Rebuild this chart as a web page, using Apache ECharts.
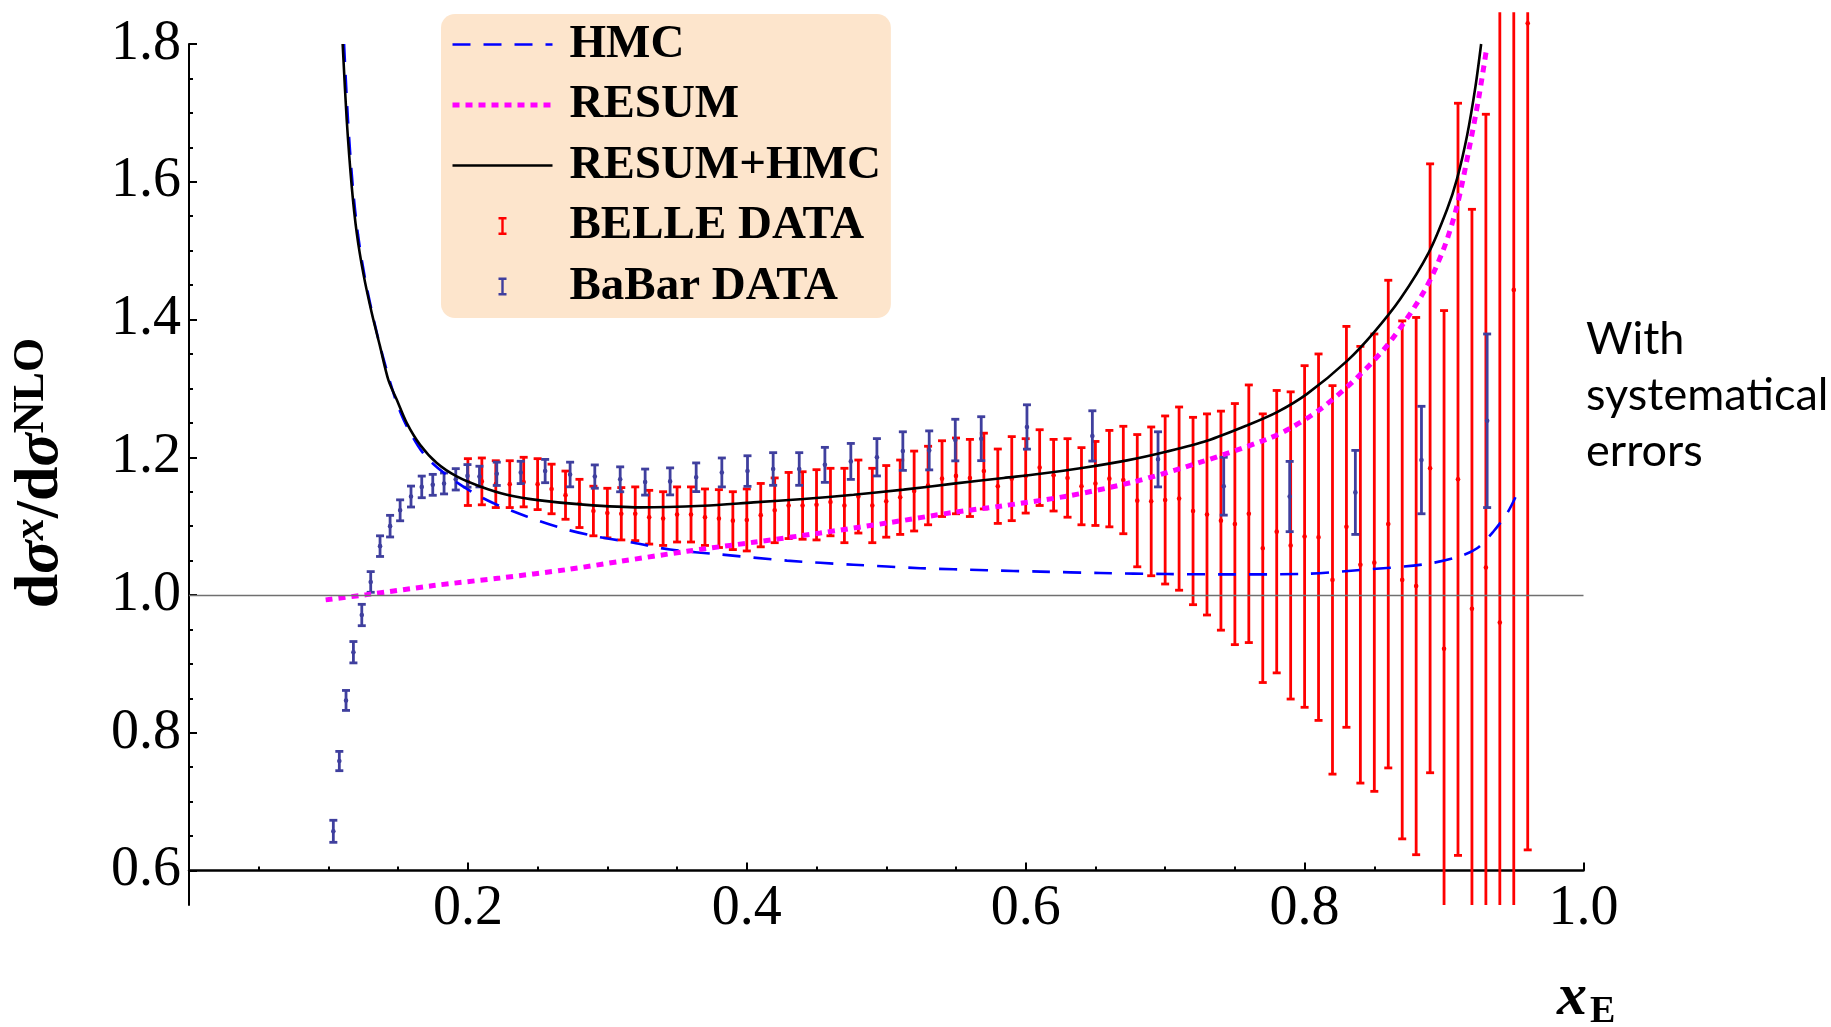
<!DOCTYPE html>
<html>
<head>
<meta charset="utf-8">
<title>xE ratio</title>
<script src="https://cdn.jsdelivr.net/npm/echarts@6/dist/echarts.min.js"></script>
<style>
  html, body { margin: 0; padding: 0; background: #fff; }
  #chart { width: 1831px; height: 1027px; }
</style>
</head>
<body>
<div id="chart"></div>
<script>
// tick labels
var xTicks = [0.2, 0.4, 0.6, 0.8, 1.0];
var xMinorTicks = [0.05, 0.1, 0.15, 0.25, 0.3, 0.35, 0.45, 0.5, 0.55, 0.65, 0.7, 0.75, 0.85, 0.9, 0.95];
var yTicks = [0.6, 0.8, 1.0, 1.2, 1.4, 1.6, 1.8];
var yMinorTicks = [0.65, 0.7, 0.75, 0.85, 0.9, 0.95, 1.05, 1.1, 1.15, 1.25, 1.3, 1.35,
  1.45, 1.5, 1.55, 1.65, 1.7, 1.75];

// HMC (blue dashed)
var hmcX = [0.1112, 0.1140, 0.1175, 0.1212, 0.1260, 0.1320, 0.1380, 0.1450, 0.1495, 0.1562,
  0.1697, 0.1896, 0.2135, 0.2422, 0.2709, 0.2948, 0.3187, 0.3450, 0.3809, 0.4288, 0.4766,
  0.5244, 0.5722, 0.6105, 0.6535, 0.7014, 0.7491, 0.7970, 0.8377, 0.8855, 0.9094, 0.9237,
  0.9357, 0.9453, 0.9512];
var hmcY = [1.800, 1.690, 1.592, 1.523, 1.462, 1.404, 1.354, 1.304, 1.276, 1.245,
  1.2015, 1.167, 1.138, 1.114, 1.095, 1.084, 1.076, 1.066, 1.059, 1.050, 1.044,
  1.039, 1.036, 1.034, 1.032, 1.0305, 1.030, 1.0305, 1.036, 1.0445, 1.055, 1.068,
  1.093, 1.119, 1.142];

// RESUM (magenta dotted)
var resumX = [0.098, 0.1275, 0.1753, 0.2231, 0.2709, 0.3092, 0.357, 0.4048, 0.4527, 0.5005,
  0.5483, 0.5818, 0.6296, 0.6774, 0.7253, 0.7731, 0.7898, 0.8125, 0.8377, 0.8615, 0.8855,
  0.8998, 0.9094, 0.9177, 0.9249, 0.9304];
var resumY = [0.993, 1.0006, 1.0137, 1.0248, 1.0369, 1.0489, 1.0635, 1.0766, 1.0901, 1.1046,
  1.120, 1.129, 1.1436, 1.1643, 1.1928, 1.2263, 1.2422, 1.2717, 1.3158, 1.3682, 1.4402,
  1.503, 1.5656, 1.645, 1.722, 1.792];

// RESUM+HMC (black solid)
var totalX = [0.1102, 0.1131, 0.1167, 0.1203, 0.1250, 0.1311, 0.1370, 0.1430, 0.1490, 0.1562,
  0.1657, 0.1777, 0.1920, 0.2088, 0.2279, 0.2518, 0.2829, 0.3235, 0.3689, 0.4048, 0.4407,
  0.4766, 0.5124, 0.5483, 0.5842, 0.6105, 0.6415, 0.6727, 0.7014, 0.7300, 0.7588, 0.7803,
  0.8018, 0.8305, 0.8496, 0.8687, 0.8890, 0.9022, 0.9094, 0.9166, 0.9225, 0.9266];
var totalY = [1.800, 1.690, 1.593, 1.5255, 1.467, 1.409, 1.361, 1.312, 1.2836, 1.2497,
  1.2183, 1.1917, 1.1722, 1.1577, 1.1457, 1.1374, 1.1312, 1.1273, 1.1297, 1.1345, 1.1394,
  1.1457, 1.153, 1.1617, 1.1700, 1.1760, 1.1849, 1.1955, 1.2084, 1.2239, 1.2463, 1.2655,
  1.292, 1.340, 1.381, 1.430, 1.497, 1.560, 1.605, 1.668, 1.738, 1.800];

// BELLE data: x, value, symmetric error
var belleX = [0.20, 0.21, 0.22, 0.23, 0.24, 0.25, 0.26, 0.27, 0.28, 0.29,
  0.30, 0.31, 0.32, 0.33, 0.34, 0.35, 0.36, 0.37, 0.38, 0.39,
  0.40, 0.41, 0.42, 0.43, 0.44, 0.45, 0.46, 0.47, 0.48, 0.49,
  0.50, 0.51, 0.52, 0.53, 0.54, 0.55, 0.56, 0.57, 0.58, 0.59,
  0.60, 0.61, 0.62, 0.63, 0.64, 0.65, 0.66, 0.67, 0.68, 0.69,
  0.70, 0.71, 0.72, 0.73, 0.74, 0.75, 0.76, 0.77, 0.78, 0.79,
  0.80, 0.81, 0.82, 0.83, 0.84, 0.85, 0.86, 0.87, 0.88, 0.89,
  0.90, 0.91, 0.92, 0.93, 0.94, 0.95, 0.96];
var belleY = [1.164, 1.165, 1.161, 1.161, 1.164, 1.161, 1.154, 1.145, 1.133, 1.122,
  1.119, 1.118, 1.118, 1.113, 1.111, 1.117, 1.117, 1.113, 1.111, 1.108,
  1.109, 1.116, 1.123, 1.130, 1.130, 1.131, 1.135, 1.130, 1.143, 1.130,
  1.136, 1.142, 1.151, 1.159, 1.169, 1.173, 1.170, 1.180, 1.158, 1.169,
  1.173, 1.185, 1.174, 1.170, 1.158, 1.162, 1.169, 1.167, 1.137, 1.136,
  1.138, 1.140, 1.122, 1.117, 1.108, 1.103, 1.118, 1.068, 1.092, 1.072,
  1.085, 1.084, 1.022, 1.099, 1.044, 1.047, 1.103, 1.022, 1.013, 1.184,
  0.922, 1.168, 0.980, 1.040, 0.960, 1.443, 1.830];
var belleErr = [0.034, 0.034, 0.034, 0.034, 0.036, 0.037, 0.036, 0.035, 0.035, 0.036,
  0.036, 0.038, 0.039, 0.039, 0.039, 0.040, 0.040, 0.041, 0.042, 0.042,
  0.045, 0.046, 0.047, 0.048, 0.049, 0.051, 0.049, 0.054, 0.053, 0.054,
  0.052, 0.054, 0.058, 0.057, 0.055, 0.055, 0.056, 0.055, 0.054, 0.061,
  0.054, 0.055, 0.052, 0.057, 0.056, 0.061, 0.070, 0.078, 0.096, 0.108,
  0.122, 0.133, 0.136, 0.146, 0.159, 0.175, 0.187, 0.195, 0.205, 0.223,
  0.248, 0.266, 0.282, 0.291, 0.317, 0.332, 0.354, 0.376, 0.390, 0.442,
  0.491, 0.546, 0.580, 0.658, 1.000, 1.000, 1.200];

// BaBar data
var babarX = [0.1035, 0.1078, 0.1126, 0.1179, 0.1239, 0.1303, 0.1370, 0.1442, 0.1514, 0.1592,
  0.1669, 0.1748, 0.1829, 0.1913, 0.1997, 0.2083, 0.2207, 0.2379, 0.2554, 0.2733,
  0.2910, 0.3092, 0.3271, 0.3450, 0.3637, 0.3821, 0.4005, 0.4189, 0.4376, 0.4560,
  0.4746, 0.4933, 0.5119, 0.5308, 0.5495, 0.5681, 0.6009, 0.6478, 0.6949, 0.7420,
  0.7893, 0.8364, 0.8838, 0.9309];
var babarY = [0.657, 0.759, 0.847, 0.917, 0.971, 1.019, 1.071, 1.100, 1.123, 1.143,
  1.157, 1.160, 1.162, 1.168, 1.173, 1.172, 1.176, 1.178, 1.180, 1.175,
  1.172, 1.168, 1.164, 1.165, 1.171, 1.178, 1.180, 1.183, 1.183, 1.189,
  1.194, 1.200, 1.209, 1.210, 1.225, 1.227, 1.244, 1.231, 1.197, 1.158,
  1.143, 1.149, 1.196, 1.253];
var babarErr = [0.016, 0.014, 0.0145, 0.0155, 0.0155, 0.015, 0.015, 0.0157, 0.0152, 0.0152,
  0.0157, 0.0152, 0.0152, 0.0155, 0.0164, 0.015, 0.0169, 0.0162, 0.0169, 0.0179,
  0.0169, 0.0181, 0.0189, 0.0196, 0.0208, 0.021, 0.0222, 0.0237, 0.0237, 0.0254,
  0.0261, 0.0271, 0.028, 0.0283, 0.0302, 0.0319, 0.0322, 0.0365, 0.040, 0.042,
  0.051, 0.061, 0.078, 0.126];

var Y_MIN = 0.55, Y_MAX = 1.8, Y_CLIP_TOP = 1.846;
var SERIF = 'Liberation Serif';
var IBEAM = 'path://M0,0 L8,0 L8,2.5 L5.2,2.5 L5.2,15.5 L8,15.5 L8,18 L0,18 L0,15.5 L2.8,15.5 L2.8,2.5 L0,2.5 Z';
var NO_SYMBOL = { color: 'rgba(0,0,0,0)', borderColor: 'rgba(0,0,0,0)', borderWidth: 0 };

function pairs(xs, ys) {
  return xs.map(function (x, i) { return [x, ys[i]]; });
}
function triples(xs, ys, es) {
  return xs.map(function (x, i) { return [x, ys[i], es[i]]; });
}

// error bar drawing, bars are cut at the plot range (no cap where cut)
function errorBar(color, lw, capW) {
  return function (params, api) {
    var x = api.value(0), y = api.value(1), e = api.value(2);
    var hi = y + e, lo = y - e;
    var capHi = hi <= Y_CLIP_TOP, capLo = lo >= Y_MIN;
    var top = api.coord([x, Math.min(hi, Y_CLIP_TOP)]);
    var bot = api.coord([x, Math.max(lo, Y_MIN)]);
    var mid = api.coord([x, y]);
    var st = { stroke: color, lineWidth: lw };
    var kids = [{ type: 'line', shape: { x1: top[0], y1: top[1], x2: bot[0], y2: bot[1] }, style: st }];
    if (capHi) kids.push({ type: 'line', shape: { x1: top[0] - capW / 2, y1: top[1], x2: top[0] + capW / 2, y2: top[1] }, style: st });
    if (capLo) kids.push({ type: 'line', shape: { x1: bot[0] - capW / 2, y1: bot[1], x2: bot[0] + capW / 2, y2: bot[1] }, style: st });
    kids.push({ type: 'circle', shape: { cx: mid[0], cy: mid[1], r: 2.3 }, style: { fill: color } });
    return { type: 'group', children: kids };
  };
}

var chart = echarts.init(document.getElementById('chart'), null, { renderer: 'canvas' });

var option = {
  animation: false,
  backgroundColor: '#ffffff',
  grid: { left: 189, top: 44, width: 1394.5, height: 861 },
  legend: {
    orient: 'vertical',
    left: 441,
    top: 14,
    backgroundColor: '#fde5cc',
    borderRadius: 14,
    padding: [7, 10, 8, 9],
    itemWidth: 100,
    itemHeight: 18,
    itemGap: 13.5,
    textStyle: { fontFamily: SERIF, fontWeight: 'bold', fontSize: 47, color: '#000', lineHeight: 44, padding: [0, 0, 0, 12] },
    data: [
      { name: 'HMC', itemStyle: NO_SYMBOL, lineStyle: { color: '#0000ff', width: 2.6, type: [18, 13] } },
      { name: 'RESUM', itemStyle: NO_SYMBOL, lineStyle: { color: '#ff00ff', width: 5, type: [7, 6] } },
      { name: 'RESUM+HMC', itemStyle: NO_SYMBOL, lineStyle: { color: '#000000', width: 2.6, type: 'solid' } },
      { name: 'BELLE DATA', icon: IBEAM },
      { name: 'BaBar DATA', icon: IBEAM }
    ]
  },
  title: [
    {
      text: 'With\nsystematical\nerrors',
      left: 1586, top: 311, padding: 0,
      textStyle: { fontFamily: 'Lato', fontWeight: 'normal', fontSize: 45, lineHeight: 56, color: '#000' }
    },
    {
      text: 'x', left: 1557, top: 968, padding: 0,
      textStyle: { fontFamily: SERIF, fontWeight: 'bold', fontStyle: 'italic', fontSize: 60, color: '#000' }
    },
    {
      text: 'E', left: 1590, top: 993, padding: 0,
      textStyle: { fontFamily: SERIF, fontWeight: 'bold', fontSize: 38, color: '#000' }
    }
  ],
  graphic: [{
    type: 'text',
    x: 41, y: 473,
    rotation: Math.PI / 2,
    style: {
      text: '{a|d}{b|σ}{s|x}{a|/d}{b|σ}{t|NLO}',
      align: 'center',
      verticalAlign: 'middle',
      fill: '#000',
      rich: {
        a: { fontFamily: SERIF, fontWeight: 'bold', fontSize: 62 },
        b: { fontFamily: SERIF, fontWeight: 'bold', fontStyle: 'italic', fontSize: 62 },
        s: { fontFamily: SERIF, fontWeight: 'bold', fontStyle: 'italic', fontSize: 44, verticalAlign: 'top' },
        t: { fontFamily: SERIF, fontWeight: 'bold', fontSize: 44, verticalAlign: 'top' }
      }
    }
  }],
  xAxis: [
    {
      type: 'value', min: 0, max: 1, position: 'bottom', offset: -34.4,
      axisLine: { lineStyle: { color: '#000', width: 2.5 } },
      axisTick: { inside: true, length: 8, customValues: xTicks, lineStyle: { color: '#000', width: 2 } },
      axisLabel: {
        customValues: xTicks, margin: 11,
        formatter: function (v) { return v.toFixed(1); },
        fontFamily: SERIF, fontSize: 56, color: '#000'
      },
      splitLine: { show: false }
    },
    {
      type: 'value', min: 0, max: 1, position: 'bottom', offset: -34.4,
      axisLine: { show: false },
      axisTick: { inside: true, length: 4, customValues: xMinorTicks, lineStyle: { color: '#000', width: 2 } },
      axisLabel: { show: false },
      splitLine: { show: false }
    }
  ],
  yAxis: [
    {
      type: 'value', min: Y_MIN, max: Y_MAX, position: 'left',
      axisLine: { show: true, lineStyle: { color: '#000', width: 2 } },
      axisTick: { show: true, inside: true, length: 8, customValues: yTicks, lineStyle: { color: '#000', width: 2 } },
      axisLabel: {
        customValues: yTicks, margin: 8,
        formatter: function (v) { return v.toFixed(1); },
        fontFamily: SERIF, fontSize: 56, color: '#000'
      },
      splitLine: { show: false }
    },
    {
      type: 'value', min: Y_MIN, max: Y_MAX, position: 'left',
      axisLine: { show: false },
      axisTick: { show: true, inside: true, length: 4, customValues: yMinorTicks, lineStyle: { color: '#000', width: 2 } },
      axisLabel: { show: false },
      splitLine: { show: false }
    }
  ],
  series: [
    {
      name: 'HMC', type: 'line', data: pairs(hmcX, hmcY),
      showSymbol: false, symbol: 'none', smooth: 0.3,
      color: '#0000ff',
      lineStyle: { color: '#0000ff', width: 2.6, type: [18, 13] },
      markLine: {
        silent: true, symbol: ['none', 'none'], animation: false,
        label: { show: false },
        lineStyle: { color: '#707070', width: 1.3, type: 'solid' },
        emphasis: { disabled: true },
        data: [{ yAxis: 1.0 }]
      }
    },
    {
      name: 'RESUM', type: 'line', data: pairs(resumX, resumY),
      showSymbol: false, symbol: 'none', smooth: 0.3,
      color: '#ff00ff',
      lineStyle: { color: '#ff00ff', width: 5, type: [7, 6], cap: 'butt' }
    },
    {
      name: 'RESUM+HMC', type: 'line', data: pairs(totalX, totalY),
      showSymbol: false, symbol: 'none', smooth: 0.3,
      color: '#000000',
      lineStyle: { color: '#000000', width: 2.6 }
    },
    {
      name: 'BELLE DATA', type: 'custom', clip: false,
      itemStyle: { color: '#ff0000' },
      renderItem: errorBar('#ff0000', 2.8, 8),
      encode: { x: 0, y: 1 },
      data: triples(belleX, belleY, belleErr)
    },
    {
      name: 'BaBar DATA', type: 'custom', clip: false,
      itemStyle: { color: '#3f3f9e' },
      renderItem: errorBar('#3f3f9e', 2.8, 8),
      encode: { x: 0, y: 1 },
      data: triples(babarX, babarY, babarErr)
    }
  ]
};

chart.setOption(option);
</script>
</body>
</html>
